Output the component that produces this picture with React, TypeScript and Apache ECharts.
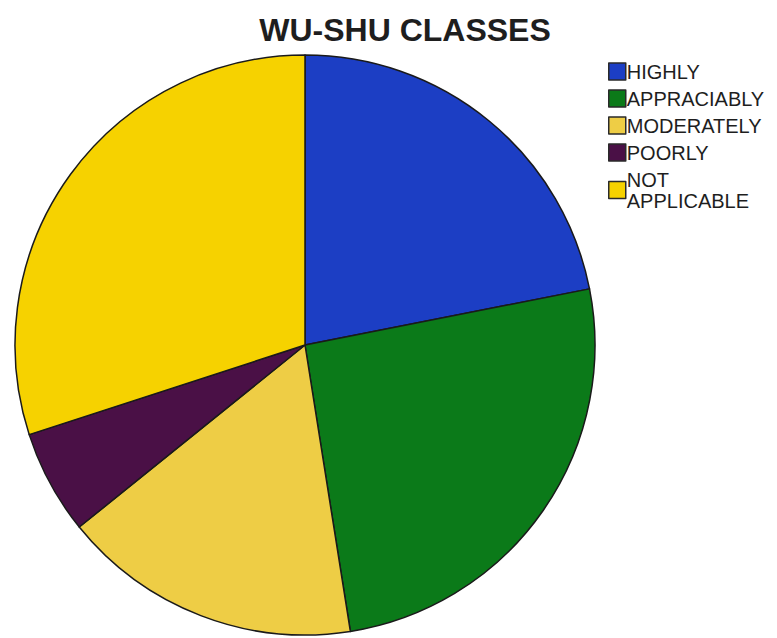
import React, { useEffect, useRef } from "react";
import * as echarts from "echarts";

const categories = ["HIGHLY", "APPRACIABLY", "MODERATELY", "POORLY", "NOT APPLICABLE"];
const values = [21.9, 25.6, 16.7, 5.8, 30.0];
const colors = ["#1c3ec4", "#0b7a19", "#eecd45", "#4a1046", "#f6d200"];
const titleText = "WU-SHU CLASSES";

export default function App() {
  const ref = useRef<HTMLDivElement>(null);
  useEffect(() => {
    document.body.style.margin = "0";
    const chart = echarts.init(ref.current!, null, { renderer: "svg" });
    chart.setOption({
      animation: false,
      backgroundColor: "#ffffff",
      title: {
        text: titleText,
        left: 400,
        textAlign: "center",
        top: 9,
        textStyle: {
          fontFamily: "Liberation Sans",
          fontWeight: "bold",
          fontSize: 32,
          color: "#1e1e1e",
        },
      },
      legend: {
        orient: "vertical",
        left: 603,
        top: 56,
        itemWidth: 17,
        itemHeight: 17,
        itemGap: 6,
        icon: "rect",
        formatter: (n: string) => (n === "NOT APPLICABLE" ? "NOT\nAPPLICABLE" : n),
        itemStyle: { borderColor: "#2a2a2a", borderWidth: 1.5 },
        textStyle: {
          fontFamily: "Liberation Sans",
          fontSize: 20,
          lineHeight: 21,
          color: "#1e1e1e",
          padding: [0, 0, 0, -4],
        },
        data: categories,
      },
      series: [
        {
          type: "pie",
          center: [305, 345],
          radius: 290,
          startAngle: 90,
          clockwise: true,
          label: { show: false },
          labelLine: { show: false },
          emphasis: { disabled: true },
          itemStyle: { borderColor: "#1a1a1a", borderWidth: 1.5 },
          data: categories.map((c, i) => ({
            name: c,
            value: values[i],
            itemStyle: { color: colors[i] },
          })),
        },
      ],
    });
    return () => chart.dispose();
  }, []);
  return <div ref={ref} style={{ width: 777, height: 638 }} />;
}
